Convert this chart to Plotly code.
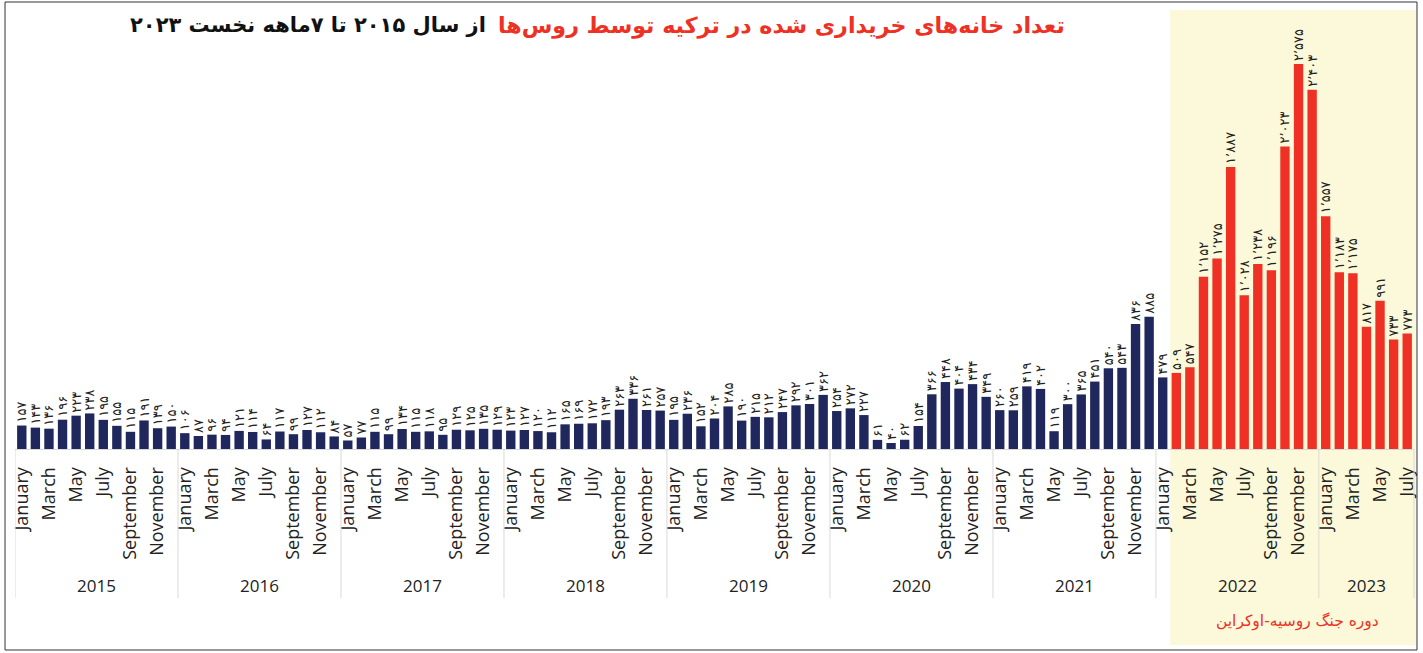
import plotly.graph_objects as go

# ---------------- data ----------------
years = ["2015", "2016", "2017", "2018", "2019", "2020", "2021", "2022", "2023"]
month_names = ["January", "February", "March", "April", "May", "June",
               "July", "August", "September", "October", "November", "December"]

sales_2015 = [157, 143, 136, 196, 223, 238, 195, 155, 115, 191, 139, 150]
sales_2016 = [106, 87, 96, 94, 121, 114, 64, 117, 99, 127, 112, 84]
sales_2017 = [57, 77, 115, 99, 134, 115, 118, 95, 129, 125, 135, 129]
sales_2018 = [123, 127, 120, 112, 165, 169, 172, 193, 263, 336, 261, 257]
sales_2019 = [195, 236, 152, 204, 285, 190, 215, 212, 247, 292, 301, 362]
sales_2020 = [254, 272, 227, 61, 40, 62, 154, 366, 448, 404, 434, 349]
sales_2021 = [260, 259, 419, 402, 119, 300, 365, 451, 540, 543, 836, 885]
sales_2022 = [479, 509, 547, 1152, 1275, 1887, 1028, 1238, 1196, 2023, 2575, 2403]
sales_2023 = [1557, 1183, 1175, 817, 991, 733, 773]

title_red = "تعداد خانه‌های خریداری شده در ترکیه توسط روس‌ها"
title_black = "از سال ۲۰۱۵ تا ۷ماهه نخست ۲۰۲۳"
war_caption = "دوره جنگ روسیه-اوکراین"
war_start_label = ("2022", "February")

# ---------------- build ----------------
series = [sales_2015, sales_2016, sales_2017, sales_2018, sales_2019,
          sales_2020, sales_2021, sales_2022, sales_2023]
values = [v for s in series for v in s]
n = len(values)
x = list(range(n))
year_of = [years[i // 12] for i in x]
month_of = [month_names[i % 12] for i in x]
war_start = next(i for i in x if (year_of[i], month_of[i]) == war_start_label)

NAVY = "#1f275c"
RED = "#ee3124"
YELLOW = "#fbf9da"

FA = str.maketrans("0123456789", "۰۱۲۳۴۵۶۷۸۹")


def fa(v):
    return f"{v:,}".replace(",", "٬").translate(FA)


colors = [NAVY if i < war_start else RED for i in x]

fig = go.Figure(go.Bar(
    x=x, y=values,
    marker=dict(color=colors, line=dict(width=0)),
    text=[fa(v) for v in values],
    textposition="outside",
    textangle=-90,
    constraintext="none",
    cliponaxis=False,
    textfont=dict(size=13, color="#222222", family="DejaVu Sans"),
    hoverinfo="x+y",
))

tickvals = [i for i in x if (i % 12) % 2 == 0]
ticktext = [month_of[i] for i in tickvals]

# plot-area geometry (pixels)
L, R, T, B = 15, 5, 40, 204
W, H = 1423, 653
plot_h = H - T - B


def py(px_y):
    return (H - B - px_y) / plot_h


def px_x(px):
    return (px - L) / (W - L - R)


shapes = []
# war period highlight
shapes.append(dict(type="rect", xref="paper", yref="paper",
                   x0=(war_start - 0.45 + 0.5) / n, x1=px_x(1420),
                   y0=py(645), y1=py(10),
                   fillcolor=YELLOW, line=dict(width=0), layer="below"))
# year separators
starts = list(range(0, n, 12))
for s in starts:
    shapes.append(dict(type="line", xref="x", yref="paper",
                       x0=s - 0.5, x1=s - 0.5, y0=0, y1=py(598),
                       line=dict(color="#d9d9d9", width=1)))
shapes.append(dict(type="line", xref="paper", yref="paper",
                   x0=1.0, x1=1.0, y0=0, y1=py(598),
                   line=dict(color="#d9d9d9", width=1)))
# outer border
shapes.append(dict(type="rect", xref="paper", yref="paper",
                   x0=px_x(5), x1=px_x(1421), y0=py(650), y1=py(2),
                   line=dict(color="#333333", width=1), fillcolor="rgba(0,0,0,0)"))

annotations = []
for k, yr in enumerate(years):
    cnt = sum(1 for i in x if year_of[i] == yr)
    start = k * 12
    annotations.append(dict(x=start + (cnt - 1) / 2, y=py(585), xref="x", yref="paper",
                            xanchor="center", yanchor="middle",
                            text=yr, showarrow=False,
                            font=dict(size=17, color="#222222", family="Open Sans")))
annotations.append(dict(x=(war_start + n - 1) / 2 + 0.4, y=py(621), xref="x", yref="paper",
                        xanchor="center", yanchor="middle",
                        text=war_caption, showarrow=False,
                        font=dict(size=15.5, color=RED, family="DejaVu Sans")))
annotations.append(dict(x=px_x(1070), y=py(25), xref="paper", yref="paper",
                        xanchor="right", yanchor="middle",
                        text="<b>" + title_red + "</b>", showarrow=False,
                        font=dict(size=22.2, color=RED, family="DejaVu Sans")))
annotations.append(dict(x=px_x(489), y=py(25), xref="paper", yref="paper",
                        xanchor="right", yanchor="middle",
                        text="<b>" + title_black + "</b>", showarrow=False,
                        font=dict(size=21, color="#111111", family="DejaVu Sans")))

fig.update_layout(
    width=W, height=H,
    margin=dict(l=L, r=R, t=T, b=B, pad=0),
    paper_bgcolor="white", plot_bgcolor="rgba(0,0,0,0)",
    bargap=0.31,
    showlegend=False,
    xaxis=dict(range=[-0.5, n - 0.5], tickmode="array", tickvals=tickvals,
               ticktext=ticktext, tickangle=-90, ticks="", ticklabelstandoff=10,
               showgrid=False, zeroline=False, showline=True, linecolor="#d9d9d9",
               tickfont=dict(size=18, color="#222222", family="Open Sans")),
    yaxis=dict(range=[0, 2736], visible=False, showgrid=False),
    shapes=shapes,
    annotations=annotations,
)

fig.write_html("out.html", config={"displayModeBar": False},
               post_script="document.body.style.margin='0';")
